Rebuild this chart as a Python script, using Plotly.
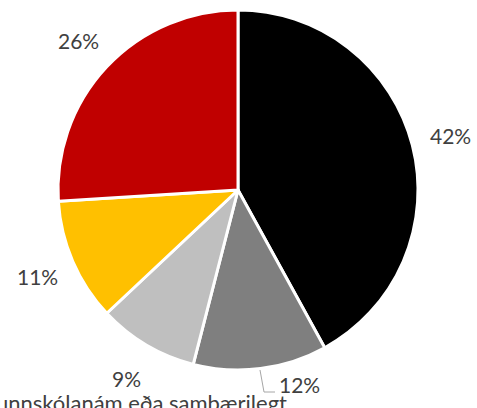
import math
import plotly.graph_objects as go

# slices, clockwise from 12 o'clock
shares = [42, 12, 9, 11, 26]
slice_colors = ["#000000", "#7f7f7f", "#bfbfbf", "#ffc000", "#c00000"]
slice_names = ["1", "2", "3", "4", "5"]
legend_text = "Grunnskólanám eða sambærilegt"

W, H = 477, 408
cx, cy, r = 238, 190, 180


def paper(x, y):
    return x / W, 1 - y / H


fig = go.Figure(go.Pie(
    labels=slice_names,
    values=shares,
    marker=dict(colors=slice_colors, line=dict(color="white", width=3)),
    sort=False,
    direction="clockwise",
    rotation=0,
    textinfo="none",
    hoverinfo="label+percent",
    showlegend=False,
    domain=dict(x=[(cx - r) / W, (cx + r) / W], y=[1 - (cy + r) / H, 1 - (cy - r) / H]),
))

# percentage labels outside the slices
annotations = []
total = sum(shares)
acc = 0
for i, v in enumerate(shares):
    mid = (acc + v / 2) / total * 2 * math.pi
    acc += v
    lx = cx + 219 * math.sin(mid)
    ly = cy - 219 * math.cos(mid)
    if i == 1:
        # this one was pulled up with a leader line
        lx, ly = 299, 384
    px, py = paper(lx, ly)
    annotations.append(dict(x=px, y=py, xref="paper", yref="paper", text=f"{v}%",
                            showarrow=False, xanchor="center", yanchor="middle",
                            font=dict(size=21, color="#404040")))

# legend entry that is cut off at the bottom edge
lx, ly = paper(289, 387)
annotations.append(dict(x=lx, y=ly, xref="paper", yref="paper", text=legend_text,
                        showarrow=False, xanchor="right", yanchor="top",
                        font=dict(size=22, color="#404040")))

x0, y0 = paper(260, 370)
x1, y1 = paper(264, 392)
x2, y2 = paper(275, 392)
fig.add_shape(type="path", xref="paper", yref="paper",
              path=f"M {x0} {y0} L {x1} {y1} L {x2} {y2}",
              line=dict(color="#a6a6a6", width=1))

fig.update_layout(
    width=W, height=H,
    margin=dict(l=0, r=0, t=0, b=0),
    paper_bgcolor="white",
    plot_bgcolor="white",
    font=dict(family="Lato, Noto Sans, sans-serif"),
    annotations=annotations,
)

fig.write_html("out.html", config={"displayModeBar": False},
               post_script="document.body.style.margin='0';")
